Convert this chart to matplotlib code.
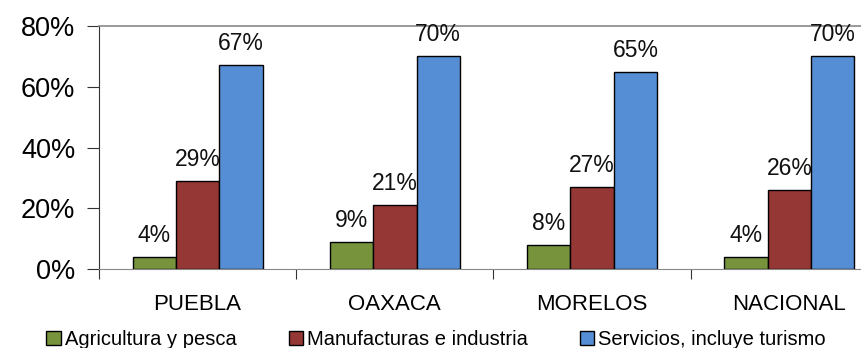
import numpy as np
import matplotlib.pyplot as plt
from matplotlib.ticker import PercentFormatter, FixedLocator

plt.rcParams['font.family'] = ['Liberation Sans', 'DejaVu Sans']

regiones = ['PUEBLA', 'OAXACA', 'MORELOS', 'NACIONAL']
series = ['Agricultura y pesca', 'Manufacturas e industria', 'Servicios, incluye turismo']
agricultura = [4, 9, 8, 4]
manufacturas = [29, 21, 27, 26]
servicios = [67, 70, 65, 70]
colores = ['#77933C', '#953735', '#558ED5']

fig = plt.figure(figsize=(8.62, 3.48), dpi=100)
# axes right edge runs past the image border, as in the original
ax = fig.add_axes([99 / 862, 1 - 269 / 348, 789 / 862, 243 / 348])

x = np.arange(len(regiones))
w = 0.22
valores = [agricultura, manufacturas, servicios]
for i, (vals, nombre, c) in enumerate(zip(valores, series, colores)):
    pos = x + (i - 1) * w
    ax.bar(pos, vals, w, color=c, edgecolor='black', linewidth=1.0, label=nombre, zorder=3)
    for p, v in zip(pos, vals):
        ax.text(p, v + 3.3, f'{v}%', ha='center', va='bottom', fontsize=16.5, color='#111111')

ax.set_xlim(-0.5, len(regiones) - 0.5)
ax.set_ylim(0, 80)
ax.set_yticks([0, 20, 40, 60, 80])
ax.yaxis.set_major_formatter(PercentFormatter(decimals=0))
ax.tick_params(axis='y', labelsize=19.5, length=9, width=0.8, color='#333333', pad=8)

ax.set_xticks(x)
ax.set_xticklabels(regiones)
ax.tick_params(axis='x', which='major', length=0, labelsize=16, pad=18)
ax.xaxis.set_minor_locator(FixedLocator(np.arange(-0.5, len(regiones), 1.0)))
ax.tick_params(axis='x', which='minor', length=7, width=0.8, color='#333333')

ax.spines['top'].set_color('#888888')
ax.spines['top'].set_linewidth(1.2)
ax.spines['right'].set_visible(False)
ax.spines['left'].set_color('#333333')
ax.spines['bottom'].set_color('#888888')

fig.legend(loc='lower center', bbox_to_anchor=(0.506, -0.055), ncol=3, frameon=False,
           fontsize=14.5, handlelength=0.7, handleheight=0.7, handletextpad=0.2,
           columnspacing=2.6)

fig.savefig('out.png', dpi=100)
